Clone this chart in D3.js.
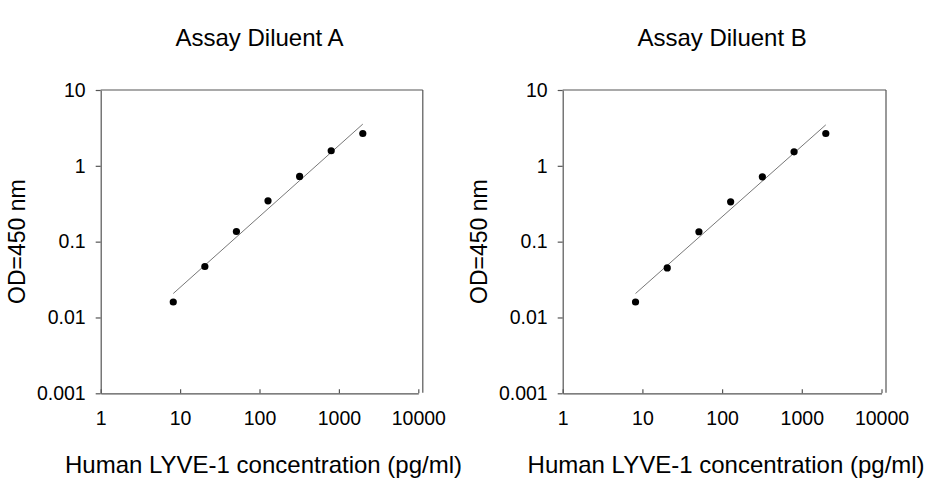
<!DOCTYPE html>
<html><head><meta charset="utf-8">
<script src="https://cdn.jsdelivr.net/npm/d3@7"></script>
<style>
html,body{margin:0;padding:0;background:#fff;}
svg{display:block;}
text{font-family:"Liberation Sans",Arial,sans-serif;fill:#000;}
</style></head>
<body>
<svg id="chart" width="926" height="480"></svg>
<script>
// ---- data ----
const titles = ["Assay Diluent A", "Assay Diluent B"];
const xLabel = "Human LYVE-1 concentration (pg/ml)";
const yLabel = "OD=450 nm";
const concentrations = [8.2, 20.5, 51.2, 128, 320, 800, 2000];
const odA = [0.016, 0.047, 0.136, 0.345, 0.724, 1.58, 2.67];
const odB = [0.016, 0.045, 0.135, 0.335, 0.716, 1.53, 2.67];
const fitX = [8.2, 2000];
const fitA = [0.0207, 3.55];
const fitB = [0.0207, 3.47];
const xTicks = [1, 10, 100, 1000, 10000];
const xTickLabels = ["1", "10", "100", "1000", "10000"];
const yTicks = [0.001, 0.01, 0.1, 1, 10];
const yTickLabels = ["0.001", "0.01", "0.1", "1", "10"];

const panels = [
  {title: titles[0], od: odA, fit: fitA, x0: 100.7, x1: 418.3},
  {title: titles[1], od: odB, fit: fitB, x0: 562.7, x1: 881.5}
];
const yTop = 90, yBot = 393.3;
const axisColor = "#555";

const svg = d3.select("#chart");

panels.forEach(p => {
  const x = d3.scaleLog().domain([1, 10000]).range([p.x0, p.x1]);
  const y = d3.scaleLog().domain([0.001, 10]).range([yBot, yTop]);
  const g = svg.append("g");

  // frame (top and right)
  g.append("line").attr("x1", p.x0).attr("x2", p.x1 + 4.5)
    .attr("y1", yTop).attr("y2", yTop).attr("stroke", axisColor).attr("stroke-width", 1.2);
  g.append("line").attr("x1", p.x1 + 4.5).attr("x2", p.x1 + 4.5)
    .attr("y1", yTop).attr("y2", yBot - 0.5).attr("stroke", axisColor).attr("stroke-width", 1.2);

  // y axis
  const ya = g.append("g").attr("transform", `translate(${p.x0},0)`)
    .call(d3.axisLeft(y).tickValues(yTicks).tickFormat((d, i) => yTickLabels[i]).tickSizeInner(5).tickSizeOuter(0).tickPadding(10));
  ya.select(".domain").attr("stroke", axisColor).attr("stroke-width", 1.2);
  ya.selectAll(".tick line").attr("stroke", axisColor).attr("stroke-width", 1.2);
  ya.selectAll(".tick text").attr("font-size", 19.5).attr("font-family", "Liberation Sans, Arial, sans-serif");

  // x axis
  const xa = g.append("g").attr("transform", `translate(0,${yBot})`)
    .call(d3.axisBottom(x).tickValues(xTicks).tickFormat((d, i) => xTickLabels[i]).tickSizeInner(-4).tickSizeOuter(0));
  xa.select(".domain").attr("stroke", axisColor).attr("stroke-width", 1.2);
  xa.selectAll(".tick line").attr("stroke", axisColor).attr("stroke-width", 1.2);
  xa.selectAll(".tick text").attr("font-size", 19.5).attr("y", 31.5).attr("dy", 0)
    .attr("font-family", "Liberation Sans, Arial, sans-serif");

  // fit line
  g.append("line")
    .attr("x1", x(fitX[0])).attr("y1", y(p.fit[0]))
    .attr("x2", x(fitX[1])).attr("y2", y(p.fit[1]))
    .attr("stroke", "#777").attr("stroke-width", 1);

  // points
  g.selectAll("circle.pt").data(concentrations.map((c, i) => [c, p.od[i]]))
    .enter().append("circle").attr("class", "pt")
    .attr("cx", d => x(d[0])).attr("cy", d => y(d[1])).attr("r", 3.6).attr("fill", "#000");

  const cx = (p.x0 + p.x1) / 2;
  // title
  g.append("text").attr("x", cx).attr("y", 46).attr("text-anchor", "middle")
    .attr("font-size", 24).text(p.title);
  // x label
  g.append("text").attr("x", cx + 4).attr("y", 473).attr("text-anchor", "middle")
    .attr("font-size", 24).text(xLabel);
  // y label
  g.append("text").attr("transform", `translate(${p.x0 - 76},${(yTop + yBot) / 2}) rotate(-90)`)
    .attr("text-anchor", "middle").attr("font-size", 23).text(yLabel);
});
</script>
</body></html>
